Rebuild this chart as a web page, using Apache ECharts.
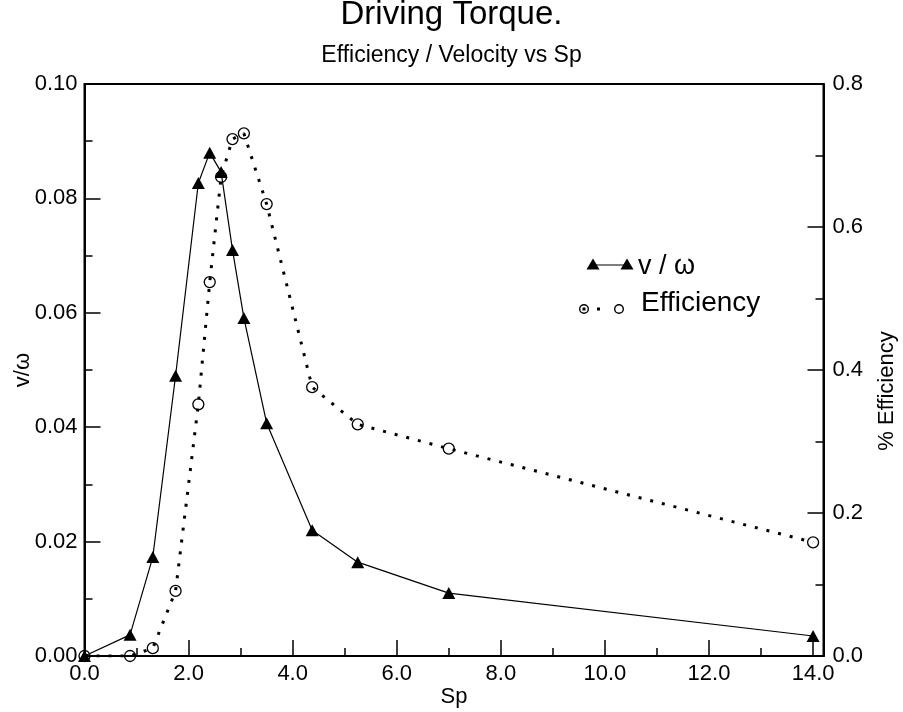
<!DOCTYPE html>
<html>
<head>
<meta charset="utf-8">
<script src="https://cdn.jsdelivr.net/npm/echarts@6/dist/echarts.min.js"></script>
<style>
html,body{margin:0;padding:0;background:#fff;}
#chart{width:903px;height:712px;}
</style>
</head>
<body>
<div id="chart"></div>
<script>
// ---- data ----
var sp = [0, 0.875, 1.3125, 1.75, 2.1875, 2.40625, 2.625, 2.84375, 3.0625, 3.5, 4.375, 5.25, 7.0, 14.0];
var velocity = [0, 0.0037, 0.0173, 0.049, 0.0827, 0.088, 0.0846, 0.071, 0.0591, 0.0407, 0.022, 0.0164, 0.011, 0.0035];
var efficiency = [0, 0, 0.011, 0.091, 0.352, 0.523, 0.670, 0.723, 0.731, 0.632, 0.376, 0.324, 0.290, 0.159];
var titleText = 'Driving Torque.';
var subtitleText = 'Efficiency / Velocity vs Sp';
var xName = 'Sp';
var yLeftName = 'v/\u03c9';
var yRightName = '% Efficiency';
var legendVelocity = 'v / \u03c9';
var legendEfficiency = 'Efficiency';

var FONT = "'Liberation Sans', Arial, sans-serif";
var chart = echarts.init(document.getElementById('chart'), null, {renderer: 'canvas'});

function pairs(xs, ys) { return xs.map(function (x, i) { return [x, ys[i]]; }); }

var axisCommon = {
  nameMoveOverlap: false,
  axisLine: {show: true, lineStyle: {color: '#000', width: 2}},
  axisTick: {show: true, inside: true, length: 16, lineStyle: {color: '#000', width: 1.5}},
  minorTick: {show: true, splitNumber: 2, length: 8, lineStyle: {color: '#000', width: 1.5}},
  splitLine: {show: false},
  minorSplitLine: {show: false}
};

var option = {
  backgroundColor: '#fff',
  animation: false,
  title: [
    {text: titleText, left: 'center', top: -2, padding: 0,
     textStyle: {fontFamily: FONT, fontSize: 33, fontWeight: 'normal', color: '#000'}},
    {text: subtitleText, left: 'center', top: 44, padding: 0,
     textStyle: {fontFamily: FONT, fontSize: 23, fontWeight: 'normal', color: '#000'}}
  ],
  grid: {left: 84.5, right: 79.5, top: 84, bottom: 56, show: true, borderColor: '#000', borderWidth: 2,
         containLabel: false, outerBoundsMode: 'none'},
  xAxis: Object.assign({}, axisCommon, {
    type: 'value', min: 0, max: 14.2, interval: 2,
    name: xName, nameLocation: 'middle', nameGap: 30,
    nameTextStyle: {fontFamily: FONT, fontSize: 22, color: '#000'},
    axisLabel: {fontFamily: FONT, fontSize: 22, color: '#000', margin: 7, showMaxLabel: false,
      formatter: function (v) { return (Math.abs(v / 2 - Math.round(v / 2)) < 1e-6) ? v.toFixed(1) : ''; }}
  }),
  yAxis: [
    Object.assign({}, axisCommon, {
      type: 'value', min: 0, max: 0.1, interval: 0.02, position: 'left',
      name: yLeftName, nameLocation: 'middle', nameGap: 51, nameRotate: 90,
      nameTextStyle: {fontFamily: FONT, fontSize: 22, color: '#000'},
      axisLabel: {fontFamily: FONT, fontSize: 22, color: '#000', margin: 7,
        formatter: function (v) { return v.toFixed(2); }}
    }),
    Object.assign({}, axisCommon, {
      type: 'value', min: 0, max: 0.8, interval: 0.2, position: 'right',
      name: yRightName, nameLocation: 'middle', nameGap: 52, nameRotate: 90,
      nameTextStyle: {fontFamily: FONT, fontSize: 22, color: '#000', padding: [0, 42, 0, 0]},
      axisLabel: {fontFamily: FONT, fontSize: 22, color: '#000', margin: 9,
        formatter: function (v) { return v.toFixed(1); }}
    })
  ],
  series: [
    {
      name: legendEfficiency, type: 'line', yAxisIndex: 1,
      data: pairs(sp, efficiency),
      symbol: 'circle', symbolSize: 11,
      itemStyle: {color: 'rgba(0,0,0,0)', borderColor: '#000', borderWidth: 1.3},
      lineStyle: {color: '#000', width: 3, type: [3, 9]},
      z: 2
    },
    {
      name: legendVelocity, type: 'line', yAxisIndex: 0,
      data: pairs(sp, velocity),
      symbol: 'triangle', symbolSize: [13, 12],
      itemStyle: {color: '#000'},
      lineStyle: {color: '#000', width: 1.2},
      z: 3
    }
  ],
  graphic: [
    {type: 'line', shape: {x1: 593, y1: 265, x2: 627, y2: 265}, style: {stroke: '#000', lineWidth: 1.2}},
    {type: 'polygon', shape: {points: [[593, 258.5], [599.5, 269.5], [586.5, 269.5]]}, style: {fill: '#000'}},
    {type: 'polygon', shape: {points: [[627, 258.5], [633.5, 269.5], [620.5, 269.5]]}, style: {fill: '#000'}},
    {type: 'text', left: 638, top: 253, style: {text: legendVelocity, fontFamily: FONT, fontSize: 27, fill: '#000'}},
    {type: 'circle', shape: {cx: 584, cy: 309, r: 4.3}, style: {fill: 'none', stroke: '#000', lineWidth: 1.4}},
    {type: 'rect', shape: {x: 582.5, y: 307.5, width: 3, height: 3}, style: {fill: '#000'}},
    {type: 'rect', shape: {x: 597, y: 307.5, width: 3, height: 3}, style: {fill: '#000'}},
    {type: 'circle', shape: {cx: 619, cy: 309, r: 4.3}, style: {fill: 'none', stroke: '#000', lineWidth: 1.4}},
    {type: 'text', left: 641, top: 289, style: {text: legendEfficiency, fontFamily: FONT, fontSize: 28, fill: '#000'}}
  ]
};
chart.setOption(option);
</script>
</body>
</html>
